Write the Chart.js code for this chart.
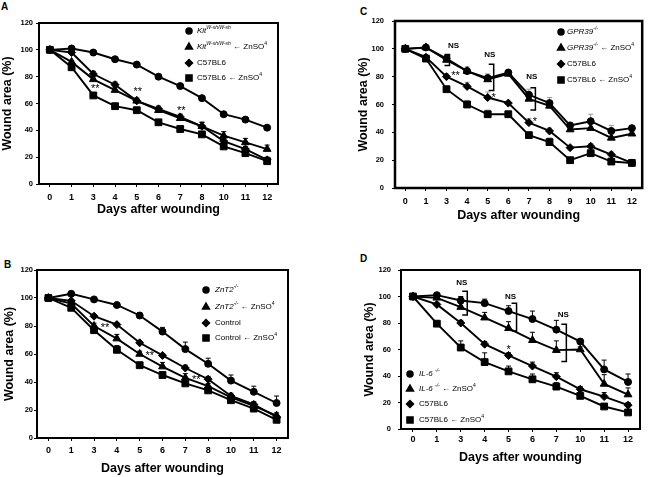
<!DOCTYPE html>
<html>
<head>
<meta charset="utf-8">
<script src="https://cdn.jsdelivr.net/npm/chart.js@4.4.1/dist/chart.umd.min.js"></script>
<style>
  body { margin: 0; background: #fff; width: 648px; height: 477px; position: relative; overflow: hidden; font-family: "Liberation Sans", Arial, sans-serif; }
  canvas { position: absolute; }
  .letra { position: absolute; font-weight: bold; font-size: 10px; line-height: 10px; }
</style>
</head>
<body>
<div class="letra" style="left:1px;top:2px">A</div>
<div class="letra" style="left:360px;top:7px">C</div>
<div class="letra" style="left:4px;top:260px">B</div>
<div class="letra" style="left:360px;top:254px">D</div>
<canvas id="graficoA"></canvas>
<canvas id="graficoB"></canvas>
<canvas id="graficoC"></canvas>
<canvas id="graficoD"></canvas>
<script>
var marcasY = [0, 20, 40, 60, 80, 100, 120];

// A
var diasA = ['0', '1', '3', '4', '5', '6', '7', '8', '10', '11', '12'];
var kitA = [100, 101, 98, 93, 89, 80, 73, 64, 52, 48, 42];
var kitZnA = [100, 91, 78, 70, 62, 55, 49, 43, 36, 31, 26];
var c57A = [100, 98, 82, 74, 62, 56, 50, 43, 32, 26, 18];
var c57ZnA = [100, 87, 66, 58, 55, 46, 41, 37, 28, 23, 17];
var errKitA = [0, 1, 1, 1, 1, 1, 1, 1, 1, 1, 1];
var errKitZnA = [0, 1, 2, 2, 2, 2, 2, 3, 3, 3, 3];
var errC57A = [0, 1, 2, 2, 2, 2, 2, 3, 2, 2, 2];
var errC57ZnA = [0, 1, 2, 2, 2, 2, 2, 2, 2, 2, 2];
var notasA = [['3', 72, '**'], ['5', 70, '**'], ['7', 56, '**']];

// B
var diasB = ['0', '1', '3', '4', '5', '6', '7', '8', '10', '11', '12'];
var zntB = [100, 103, 99, 95, 87.5, 76, 63.5, 53, 41, 33, 25];
var zntZnB = [100, 96, 80, 71, 60, 51, 43, 37, 29, 23, 16];
var controlB = [100, 98, 87, 81, 68, 59, 50, 42, 30, 24, 15];
var controlZnB = [100, 93, 77, 63, 52, 45, 39, 34, 27, 21, 13];
var errZntB = [0, 1, 1, 1, 2, 3, 5, 4, 4, 4, 5];
var errZntZnB = [0, 1, 2, 3, 2, 3, 3, 2, 2, 2, 2];
var errControlB = [0, 1, 1, 1, 1, 1, 2, 2, 2, 2, 2];
var errControlZnB = [0, 1, 2, 3, 2, 2, 2, 2, 2, 2, 2];
var notasB = [['3', 80, '**'], ['5', 60, '**'], ['7', 43, '**']];

// C
var diasC = ['0', '1', '3', '4', '5', '6', '7', '8', '9', '10', '11', '12'];
var gprC = [100, 101, 93, 84, 79, 83, 67, 61, 45, 48, 41, 43];
var gprZnC = [100, 101, 92, 84, 78, 82, 64, 59, 42, 43, 36, 39];
var c57C = [100, 94, 80, 73, 65, 61, 47, 41, 29, 30, 24, 18];
var c57ZnC = [100, 93, 71, 60, 53, 53, 38, 33, 20, 25, 19, 18];
var errGprC = [0, 1, 2, 3, 3, 1, 4, 4, 2, 5, 4, 2];
var errGprZnC = [0, 1, 2, 2, 2, 1, 3, 3, 2, 3, 3, 2];
var errC57C = [0, 1, 2, 3, 4, 1, 3, 2, 1, 2, 2, 1];
var errC57ZnC = [0, 1, 2, 3, 3, 1, 2, 3, 1, 2, 2, 1];
var notasC = [['3', 102, 'NS'], ['5', 96, 'NS'], ['7', 80, 'NS'], ['3', 82, '**'], ['5', 66, '*'], ['7', 49, '*']];
var llavesC = [['3', 96, 88], ['5', 89, 70], ['7', 72, 56]];

// D
var diasD = ['0', '1', '3', '4', '5', '6', '7', '10', '11', '12'];
var il6D = [100, 101, 97, 95, 89, 83, 75, 66, 45, 35.5];
var il6ZnD = [100, 99, 92, 84, 76, 67, 59.5, 60, 34, 26];
var c57D = [100, 94, 80, 64, 55.5, 47.5, 39.5, 30, 24.5, 18];
var c57ZnD = [100, 79.5, 61.5, 50.5, 43.5, 37.5, 32, 25, 17, 12.5];
var errIl6D = [0, 1, 3, 3, 4, 6, 7, 2, 7, 6];
var errIl6ZnD = [0, 1, 3, 4, 5, 6, 7, 2, 7, 5];
var errC57D = [0, 1, 2, 2, 2, 3, 3, 2, 3, 2];
var errC57ZnD = [0, 1, 5, 7, 4, 4, 3, 2, 2, 2];
var notasD = [['3', 110, 'NS'], ['5', 100, 'NS'], ['7', 86, 'NS'], ['5', 61, '*']];
var llavesD = [['3', 104, 86], ['5', 95, 74], ['7', 79, 51]];

// leyendas: [texto, estilo]  n normal, i italica, s superindice, is italica superindice
var leyendaA = [
  [['Kit', 'i'], ['W-sh/W-sh', 'is']],
  [['Kit', 'i'], ['W-sh/W-sh', 'is'], [' \u2190 ZnSO', 'n'], ['4', 's']],
  [['C57BL6', 'n']],
  [['C57BL6 \u2190 ZnSO', 'n'], ['4', 's']]
];
var leyendaB = [
  [['ZnT2', 'i'], ['-/-', 'is']],
  [['ZnT2', 'i'], ['-/-', 'is'], [' \u2190 ZnSO', 'n'], ['4', 's']],
  [['Control', 'n']],
  [['Control \u2190 ZnSO', 'n'], ['4', 's']]
];
var leyendaC = [
  [['GPR39', 'i'], ['-/-', 'is']],
  [['GPR39', 'i'], ['-/-', 'is'], [' \u2190 ZnSO', 'n'], ['4', 's']],
  [['C57BL6', 'n']],
  [['C57BL6 \u2190 ZnSO', 'n'], ['4', 's']]
];
var leyendaD = [
  [['IL-6 ', 'i'], ['-/-', 'is']],
  [['IL-6 ', 'i'], ['-/-', 'is'], [' \u2190 ZnSO', 'n'], ['4', 's']],
  [['C57BL6', 'n']],
  [['C57BL6 \u2190 ZnSO', 'n'], ['4', 's']]
];

var fam = '"Liberation Sans", Arial, Helvetica, sans-serif';
Chart.defaults.font.family = fam;
Chart.defaults.color = '#000';

var marcadores = ['circle', 'triangle', 'rectRot', 'rect'];
var radios = [3.5, 4.5, 4, 4.8];

const extras = {
  id: 'extras',
  beforeDatasetsDraw(chart) {
    const ctx = chart.ctx, sx = chart.scales.x, sy = chart.scales.y;
    const o = chart.options.plugins.extras;
    ctx.save();
    ctx.strokeStyle = o.colorErr;
    ctx.lineWidth = 1;
    chart.data.datasets.forEach(ds => {
      ds.data.forEach((v, j) => {
        const e = ds.err[j];
        if (!e) return;
        const px = sx.getPixelForValue(j);
        const p0 = sy.getPixelForValue(v), p1 = sy.getPixelForValue(v + e);
        ctx.beginPath();
        ctx.moveTo(px, p0); ctx.lineTo(px, p1);
        ctx.moveTo(px - 2.5, p1); ctx.lineTo(px + 2.5, p1);
        ctx.stroke();
      });
    });
    ctx.restore();
  },
  afterDraw(chart) {
    const ctx = chart.ctx, a = chart.chartArea, sx = chart.scales.x, sy = chart.scales.y;
    const o = chart.options.plugins.extras;
    const labels = chart.data.labels;
    ctx.save();
    // marco
    ctx.strokeStyle = '#000';
    ctx.lineWidth = o.marco;
    ctx.strokeRect(a.left, a.top, a.right - a.left, a.bottom - a.top);

    // llaves
    ctx.lineWidth = 1.5;
    o.llaves.forEach((l, k) => {
      const px = sx.getPixelForValue(labels.indexOf(l[0])) + o.llaveDx[k];
      const t = sy.getPixelForValue(l[1]), b = sy.getPixelForValue(l[2]);
      ctx.beginPath();
      ctx.moveTo(px - 5, t); ctx.lineTo(px, t); ctx.lineTo(px, b); ctx.lineTo(px - 5, b);
      ctx.stroke();
    });

    // notas
    ctx.fillStyle = '#000';
    ctx.textAlign = 'center';
    ctx.textBaseline = 'middle';
    o.notas.forEach((n, k) => {
      let dy = 0;
      if (n[2] === 'NS') ctx.font = 'bold 8px ' + fam;
      else { ctx.font = '11px ' + fam; dy = 2; }
      const px = sx.getPixelForValue(labels.indexOf(n[0])) + o.notaDx[k];
      ctx.fillText(n[2], px, sy.getPixelForValue(n[1]) + dy);
    });

    // leyenda
    ctx.textAlign = 'left';
    o.leyenda.forEach((fila, k) => {
      const y = o.ley.filas[k];
      ctx.fillStyle = '#000';
      ctx.strokeStyle = '#000';
      Chart.helpers.drawPoint(ctx, { pointStyle: marcadores[k], radius: radios[k] - 0.5, borderWidth: 1, rotation: 0 }, o.ley.mx, y);
      let x = o.ley.tx;
      fila.forEach(seg => {
        let f = '8px ', dy = 0;
        if (seg[1] === 'i') f = 'italic 8px ';
        if (seg[1] === 's') { f = '5px '; dy = -3; }
        if (seg[1] === 'is') { f = 'italic 5px '; dy = -3; }
        ctx.font = f + fam;
        ctx.fillText(seg[0], x, y + dy);
        x += ctx.measureText(seg[0]).width;
      });
    });
    ctx.restore();
  }
};

function armar(id, p, dias, series, errores, extra) {
  const lh = 12.5 * 1.2;
  const canvas = document.getElementById(id);
  canvas.width = p.w; canvas.height = p.h;
  canvas.style.left = p.x + 'px'; canvas.style.top = p.y + 'px';
  const padL = p.ytx - p.x - lh / 2;
  const anchoY = p.l - p.x - padL;
  const bajoX = p.xty + lh / 2;
  const altoX = bajoX - p.b;

  const datasets = series.map((s, k) => ({
    data: s,
    err: errores[k],
    borderColor: '#000',
    backgroundColor: '#000',
    borderWidth: 1.9,
    pointStyle: marcadores[k],
    pointRadius: radios[k],
    pointBackgroundColor: '#000',
    pointBorderColor: '#000',
    pointBorderWidth: 1,
    tension: 0,
    fill: false
  }));

  return new Chart(canvas, {
    type: 'line',
    data: { labels: dias, datasets: datasets },
    plugins: [extras],
    options: {
      responsive: false,
      animation: false,
      layout: { padding: { left: padL, top: p.t - p.y, right: p.x + p.w - p.r, bottom: p.y + p.h - bajoX } },
      plugins: {
        legend: { display: false },
        tooltip: { enabled: false },
        extras: extra
      },
      scales: {
        x: {
          type: 'category',
          offset: true,
          border: { display: false },
          grid: { display: true, drawOnChartArea: false, drawTicks: true, tickLength: 3, color: '#000' },
          ticks: { font: { size: 9, weight: 'bold' }, padding: p.xpad, maxRotation: 0, autoSkip: false, color: '#000' },
          title: { display: true, text: 'Days after wounding', font: { size: 12.5, weight: 'bold', lineHeight: 1.2 }, padding: 0, color: '#000' },
          afterFit: s => { s.height = altoX; }
        },
        y: {
          min: 0,
          max: 120,
          afterBuildTicks: s => { s.ticks = marcasY.map(v => ({ value: v })); },
          border: { display: false },
          grid: { display: true, drawOnChartArea: false, drawTicks: true, tickLength: 3, color: '#000' },
          ticks: { font: { size: 7.5, weight: 'bold' }, padding: p.ypad, color: '#000' },
          title: { display: true, text: 'Wound area (%)', font: { size: 12.5, weight: 'bold', lineHeight: 1.2 }, padding: 0, color: '#000' },
          afterFit: s => { s.width = anchoY; }
        }
      }
    }
  });
}

armar('graficoA', { x: 0, y: 0, w: 324, h: 237, l: 39, t: 23, r: 278, b: 184, ytx: 8, xty: 210, xpad: 5, ypad: 3 },
  diasA, [kitA, kitZnA, c57A, c57ZnA], [errKitA, errKitZnA, errC57A, errC57ZnA],
  { marco: 2, colorErr: '#000', notas: notasA, notaDx: [2, 1, 1], llaves: [], llaveDx: [],
    leyenda: leyendaA, ley: { mx: 189, tx: 197, filas: [31, 47, 63, 78] } });

armar('graficoB', { x: 0, y: 237, w: 324, h: 240, l: 37, t: 270, r: 288, b: 438, ytx: 10, xty: 469, xpad: 4, ypad: 1 },
  diasB, [zntB, zntZnB, controlB, controlZnB], [errZntB, errZntZnB, errControlB, errControlZnB],
  { marco: 2, colorErr: '#000', notas: notasB, notaDx: [11, 10, 11], llaves: [], llaveDx: [],
    leyenda: leyendaB, ley: { mx: 206, tx: 215, filas: [53, 70, 86, 101] } });

armar('graficoC', { x: 324, y: 0, w: 324, h: 237, l: 395, t: 21, r: 645, b: 188, ytx: 364, xty: 216, xpad: 5, ypad: 8 },
  diasC, [gprC, gprZnC, c57C, c57ZnC], [errGprC, errGprZnC, errC57C, errC57ZnC],
  { marco: 2.5, colorErr: '#999', notas: notasC, notaDx: [7, 2, 3, 9, 6, 6], llaves: llavesC, llaveDx: [3, 6, 6.5],
    leyenda: leyendaC, ley: { mx: 237, tx: 243, filas: [32, 48, 64, 80] } });

armar('graficoD', { x: 324, y: 237, w: 324, h: 240, l: 401, t: 270, r: 640, b: 429, ytx: 370, xty: 458, xpad: 2, ypad: 7 },
  diasD, [il6D, il6ZnD, c57D, c57ZnD], [errIl6D, errIl6ZnD, errC57D, errC57ZnD],
  { marco: 2, colorErr: '#000', notas: notasD, notaDx: [1, 2, 7, 0], llaves: llavesD, llaveDx: [6.5, 8, 10],
    leyenda: leyendaD, ley: { mx: 86, tx: 95, filas: [137, 152, 167, 183] } });
</script>
</body>
</html>
